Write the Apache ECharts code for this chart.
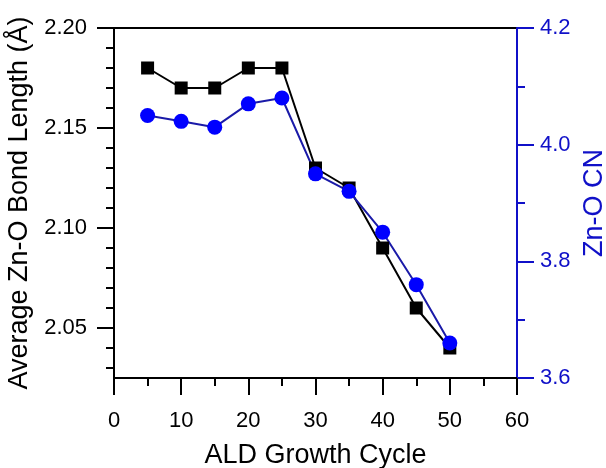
<!DOCTYPE html>
<html>
<head>
<meta charset="utf-8">
<script src="https://cdn.jsdelivr.net/npm/echarts@6/dist/echarts.min.js"></script>
<style>
  html, body { margin: 0; padding: 0; background: #fff; }
  #chart { width: 606px; height: 468px; }
</style>
</head>
<body>
<div id="chart"></div>
<script>
// ALD 循环数与 Zn-O 键长 / 配位数
const cycles = [5, 10, 15, 20, 25, 30, 35, 40, 45, 50];
const bondLength = [2.18, 2.17, 2.17, 2.18, 2.18, 2.13, 2.12, 2.09, 2.06, 2.04];
const coordNum = [4.05, 4.04, 4.03, 4.07, 4.08, 3.95, 3.92, 3.85, 3.76, 3.66];
const leftMajorTicks = [2.05, 2.10, 2.15, 2.20];
const leftMinorTicks = [2.03, 2.04, 2.06, 2.07, 2.08, 2.09, 2.11, 2.12, 2.13, 2.14, 2.16, 2.17, 2.18, 2.19];

(function () {
    let myChart = echarts.init(document.getElementById('chart'));
    const font = 'Liberation Sans, Arial, sans-serif';
    const blue = '#1010c8';

    let option = {
        animation: false,
        grid: {
            left: 114, right: 89, top: 28, bottom: 90,
            outerBoundsMode: 'none',
            show: true,
            borderColor: '#000',
            borderWidth: 2
        },
        xAxis: {
            type: 'value',
            min: 0, max: 60, interval: 10,
            name: 'ALD Growth Cycle',
            nameLocation: 'middle',
            nameGap: 64,
            nameTextStyle: { color: '#000', fontSize: 27, fontFamily: font },
            axisLine: { show: true, onZero: false, lineStyle: { color: '#000', width: 2 } },
            axisTick: { show: true, inside: false, length: 17, lineStyle: { color: '#000', width: 2 } },
            minorTick: { show: true, splitNumber: 2, length: 8, lineStyle: { color: '#000', width: 2 } },
            axisLabel: { color: '#000', fontSize: 22, fontFamily: font, margin: 32 },
            splitLine: { show: false }
        },
        yAxis: [{
            // 左轴：键长（主刻度）
            type: 'value',
            min: 2.025, max: 2.2,
            position: 'left',
            name: 'Average Zn-O Bond Length (Å)',
            nameLocation: 'middle',
            nameRotate: 90,
            nameGap: 78,
            nameTextStyle: { color: '#000', fontSize: 27, fontFamily: font },
            axisLine: { show: true, onZero: false, lineStyle: { color: '#000', width: 2 } },
            axisTick: { show: true, inside: false, length: 17, customValues: leftMajorTicks, lineStyle: { color: '#000', width: 2 } },
            axisLabel: {
                color: '#000', fontSize: 22, fontFamily: font, margin: 27,
                customValues: leftMajorTicks,
                formatter: function (v) { return v.toFixed(2); }
            },
            splitLine: { show: false }
        }, {
            // 右轴：配位数
            type: 'value',
            min: 3.6, max: 4.2, interval: 0.2,
            position: 'right',
            name: 'Zn-O CN',
            nameLocation: 'middle',
            nameRotate: 90,
            nameGap: 44,
            nameTextStyle: { color: blue, fontSize: 27, fontFamily: font },
            axisLine: { show: true, onZero: false, lineStyle: { color: blue, width: 2 } },
            axisTick: { show: true, inside: false, length: 17, lineStyle: { color: blue, width: 2 } },
            minorTick: { show: true, splitNumber: 2, length: 8, lineStyle: { color: blue, width: 2 } },
            axisLabel: {
                color: blue, fontSize: 22, fontFamily: font, margin: 23,
                formatter: function (v) { return v.toFixed(1); }
            },
            splitLine: { show: false }
        }, {
            // 左轴次刻度
            type: 'value',
            min: 2.025, max: 2.2,
            position: 'left',
            axisLine: { show: false, onZero: false },
            axisTick: { show: true, inside: false, length: 8, customValues: leftMinorTicks, lineStyle: { color: '#000', width: 2 } },
            axisLabel: { show: false },
            splitLine: { show: false }
        }],
        series: [{
            type: 'line',
            yAxisIndex: 0,
            data: cycles.map((c, i) => [c, bondLength[i]]),
            symbol: 'rect',
            symbolSize: 13,
            lineStyle: { color: '#000', width: 2 },
            itemStyle: { color: '#000' }
        }, {
            type: 'line',
            yAxisIndex: 1,
            data: cycles.map((c, i) => [c, coordNum[i]]),
            symbol: 'circle',
            symbolSize: 15,
            lineStyle: { color: '#1a1aa8', width: 2 },
            itemStyle: { color: '#0000ff' }
        }]
    };

    myChart.setOption(option);

    window.addEventListener("resize", function () {
        myChart.resize();
    })
})();
</script>
</body>
</html>
